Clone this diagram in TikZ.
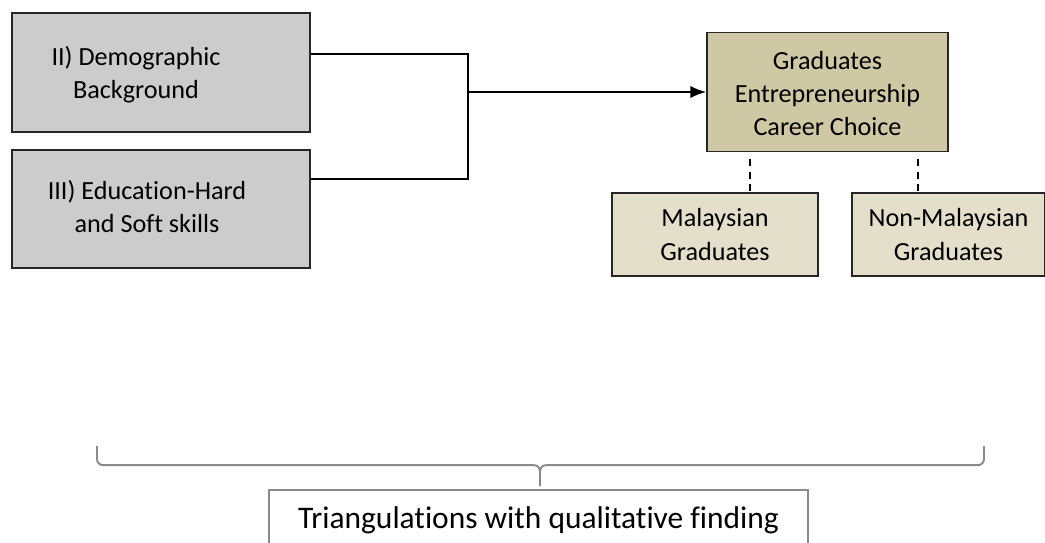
\documentclass[tikz,border=0pt]{standalone}
\usepackage{fontspec}
\setmainfont[Ligatures=NoCommon]{Carlito}
\usepackage{tikz}
\usetikzlibrary{positioning, arrows.meta, calc}

\definecolor{boxgray}{HTML}{CCCCCC}
\definecolor{choicegold}{HTML}{CFC8A5}
\definecolor{grouplight}{HTML}{E3DFCA}
\definecolor{bracegray}{HTML}{8A8A8A}

\begin{document}
\begin{tikzpicture}[
  x={(0.02cm,0)}, y={(0,-0.02cm)},
  font=\fontsize{14.9}{18.8}\selectfont,
  >={Latex[length=0.32cm,width=0.25cm]},
  box/.style={draw=black!85, line width=0.85pt, align=center, inner sep=0pt},
  factor/.style={box, fill=boxgray, minimum width=5.96cm, minimum height=2.38cm},
  group/.style={box, fill=grouplight, minimum height=1.66cm},
  link/.style={line width=0.8pt},
  dashlink/.style={line width=1.1pt, dash pattern=on 4pt off 3pt}
]
  \useasboundingbox (0,0) rectangle (1045,542);
  \clip (0,0) rectangle (1045,542);

  % factors
  \node[factor] (demo) at (161,72.5) {%
    \raisebox{-0.19cm}[0pt][0pt]{\begin{tabular}{@{}c@{}}II) Demographic\\Background\end{tabular}}\hspace{1cm}};
  \node[factor, minimum height=2.36cm] (edu) at (161,209) {%
    \begin{tabular}{@{}c@{}}III) Education-Hard\\and Soft skills\end{tabular}\hspace{0.56cm}};

  % outcome
  \node[box, fill=choicegold, minimum width=4.82cm, minimum height=2.38cm] (choice) at (827.5,92)
    {\raisebox{-0.21cm}[0pt][0pt]{\begin{tabular}{@{}c@{}}Graduates\\Entrepreneurship\\Career Choice\end{tabular}}};
  \node[group, minimum width=4.12cm] (malay) at (715,234.5) {Malaysian\\Graduates};
  \node[group, minimum width=3.86cm] (nonmalay) at (948.5,234.5) {Non-Malaysian\\Graduates};

  \node[box, draw=bracegray, line width=1pt, minimum width=10.78cm, minimum height=1.2cm,
        font=\fontsize{17.9}{21}\selectfont] (tri) at (538.5,520)
    {Triangulations with qualitative finding};

  \coordinate (join) at (468,92);
  \coordinate (bl) at (97,446);
  \coordinate (br) at (984,446);

  \draw[link] ([yshift=0.37cm]demo.east) -| (join) |- ([yshift=0.6cm]edu.east);
  \draw[->, line width=1.2pt] (join) -- (choice.west);

  \draw[dashlink] ([xshift=-1.55cm,yshift=-0.14cm]choice.south) -- ([xshift=-1.55cm]choice.south |- malay.north);
  \draw[dashlink] ([xshift=1.81cm,yshift=-0.14cm]choice.south) -- ([xshift=1.81cm]choice.south |- nonmalay.north);

  % brace
  \draw[bracegray, line width=1.1pt, rounded corners=0.12cm]
    (bl) |- ([xshift=0.03cm,yshift=0.48cm]tri.north) -- ([xshift=0.03cm,yshift=0.06cm]tri.north);
  \draw[bracegray, line width=1.1pt, rounded corners=0.12cm]
    (br) |- ([xshift=0.03cm,yshift=0.48cm]tri.north) -- ([xshift=0.03cm,yshift=0.06cm]tri.north);
\end{tikzpicture}
\end{document}
